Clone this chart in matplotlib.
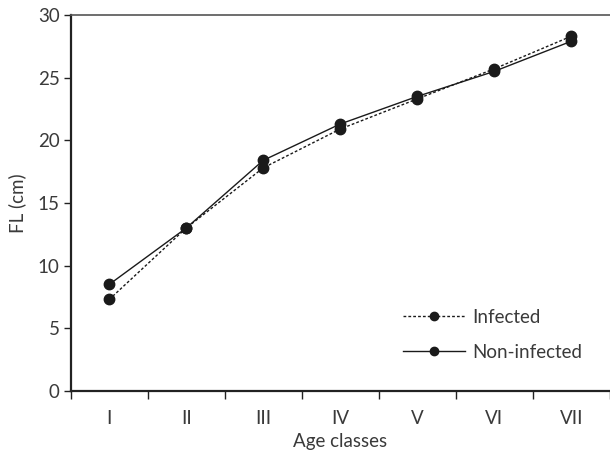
import matplotlib
matplotlib.use("Agg")
import matplotlib.pyplot as plt
from matplotlib.ticker import FixedLocator, NullFormatter, FixedFormatter

categories = ["I", "II", "III", "IV", "V", "VI", "VII"]
infected = [7.3, 13.0, 17.8, 20.9, 23.3, 25.7, 28.3]
non_infected = [8.5, 13.0, 18.4, 21.3, 23.5, 25.5, 27.9]

plt.rcParams['font.family'] = ['Lato', 'DejaVu Sans']
text_color = "#3a3a3a"

fig = plt.figure(figsize=(6.10, 4.54), dpi=100)
ax = fig.add_axes([0.1159, 0.1388, 0.8836, 0.8282])

x = list(range(len(categories)))
ax.plot(x, infected, linestyle=(0, (2, 1.5)), color="#1a1a1a", linewidth=1.0,
        marker="o", markersize=7.5, markerfacecolor="#1a1a1a", markeredgecolor="#1a1a1a",
        label="Infected", zorder=3)
ax.plot(x, non_infected, linestyle="-", color="#1a1a1a", linewidth=1.0,
        marker="o", markersize=7.5, markerfacecolor="#1a1a1a", markeredgecolor="#1a1a1a",
        label="Non-infected", zorder=3)

ax.set_xlim(-0.5, len(categories) - 0.5)
ax.set_ylim(0, 30)
ax.set_yticks([0, 5, 10, 15, 20, 25, 30])

# x ticks at category boundaries, labels at centers
ax.xaxis.set_major_locator(FixedLocator([i - 0.5 for i in range(len(categories) + 1)]))
ax.xaxis.set_major_formatter(NullFormatter())
ax.xaxis.set_minor_locator(FixedLocator(x))
ax.xaxis.set_minor_formatter(FixedFormatter(categories))
ax.tick_params(axis="x", which="major", length=6, width=1.0, direction="out", color="#222222")
ax.tick_params(axis="x", which="minor", length=0, pad=14, labelsize=13.5, labelcolor=text_color)
ax.tick_params(axis="y", which="major", length=5, width=1.0, direction="out", color="#222222",
               labelsize=13.5, labelcolor=text_color, pad=3)

for s in ["left", "bottom"]:
    ax.spines[s].set_linewidth(1.6)
    ax.spines[s].set_color("#222222")
ax.spines["top"].set_linewidth(1.2)
ax.spines["top"].set_color("#555555")
ax.spines["right"].set_visible(False)

ax.set_xlabel("Age classes", fontsize=13.5, color=text_color, labelpad=4)
ax.set_ylabel("FL (cm)", fontsize=13.5, color=text_color, labelpad=8)

leg = ax.legend(loc="upper left", bbox_to_anchor=(403 / 610, 1 - 309 / 454),
                bbox_transform=fig.transFigure, frameon=False, borderpad=0, borderaxespad=0,
                fontsize=13.5, handlelength=3.3, handletextpad=0.4, labelspacing=0.95,
                markerscale=0.8)
for t in leg.get_texts():
    t.set_color(text_color)

fig.savefig("out.png", dpi=100)
